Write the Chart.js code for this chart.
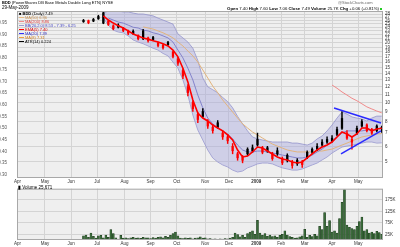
<!DOCTYPE html>
<html>
<head>
<meta charset="utf-8">
<script src="https://cdn.jsdelivr.net/npm/chart.js@4.4.1/dist/chart.umd.min.js"></script>
<style>
  body { margin:0; width:400px; height:247px; background:#fff; position:relative; overflow:hidden;
         font-family:"Liberation Sans", Arial, sans-serif; color:#000; }
  .t { position:absolute; white-space:nowrap; line-height:1; }
  .lg { position:absolute; left:19px; font-size:4px; white-space:nowrap; line-height:1; }
  .sw { display:inline-block; width:5px; height:1px; vertical-align:middle; margin-right:1px; }
  #pbox { position:absolute; left:0; top:0; width:400px; height:184px; }
  #vbox { position:absolute; left:0; top:184px; width:400px; height:63px; }
</style>
</head>
<body>
<div id="pbox"><canvas id="priceChart"></canvas></div>
<div id="vbox"><canvas id="volChart"></canvas></div>

<div class="t" style="left:2px;top:1px;font-size:4px"><b>BDD</b> (PowerShares DB Base Metals Double Long ETN) NYSE</div>
<div class="t" style="left:2px;top:6px;font-size:4.5px">29-May-2009</div>
<div class="t" style="left:338px;top:1px;font-size:4px;color:#666">@StockCharts.com</div>
<div class="t" style="right:21px;top:6.5px;font-size:4.3px"><b>Open</b> 7.40 <b>High</b> 7.60 <b>Low</b> 7.06 <b>Close</b> 7.49 <b>Volume</b> 25.7K <b>Chg</b> +0.06 (+0.81%)</div>
<div class="t" style="left:380px;top:7.5px;width:2px;height:2px;background:#2c2"></div>

<div class="lg" style="top:12px"><b>&#9632; BDD</b> (Daily) 7.49</div>
<div class="lg" style="top:16px;color:#c89050"><span class="sw" style="background:#e8b880"></span>MA(50) 6.96</div>
<div class="lg" style="top:20px;color:#e04040"><span class="sw" style="background:#f08a8a"></span>MA(200) 8.86</div>
<div class="lg" style="top:24px;color:#4040c0"><span class="sw" style="background:#9c9ccf"></span>BB(20,2.0) 8.53 - 7.39 - 6.25</div>
<div class="lg" style="top:28px;color:#e00000"><span class="sw" style="background:#f00"></span>EMA(5) 7.40</div>
<div class="lg" style="top:32px;color:#3030c0"><span class="sw" style="background:#3030ff"></span>MA(20) 7.39</div>
<div class="lg" style="top:36px;color:#d08020"><span class="sw" style="background:#f0a040"></span>MA(8) 7.31</div>
<div class="lg" style="top:40px"><span class="sw" style="background:#000"></span>ATR(14) 0.224</div>
<div class="t" style="left:18px;top:186px;font-size:4.5px"><b>&#9646;</b> Volume 25,671</div>

<script>
// axes / ticks
const monthLabels = ['Apr', 'May', 'Jun', 'Jul', 'Aug', 'Sep', 'Oct', 'Nov', 'Dec', '2009', 'Feb', 'Mar', 'Apr', 'May'];
const monthStarts = [0, 22, 43, 64, 86, 107, 128, 151, 170, 192, 212, 231, 253, 274];
const priceTicks = [5, 6, 7, 8, 9, 10, 11, 12, 13, 14, 15, 16, 17, 18, 19, 20, 21, 22, 23, 24, 25, 26, 27, 28];
const atrTicks = [0.30, 0.35, 0.40, 0.45, 0.50, 0.55, 0.60, 0.65, 0.70, 0.75, 0.80, 0.85, 0.90, 0.95];
const volTicks = [25, 50, 75, 100, 125, 150, 175, 200];

// price samples, one every 4 trading days from day 53 (16 Jun 2008)
const firstDay = 53, dayStep = 4;
const opens = [25.6,25.9,25.8,26.5,25.2,25.8,24.4,24.0,23.8,23.0, 22.3,21.8,21.0,21.2,20.8,20.0,19.5,19.6,18.0,16.6,
  14.5,12.0,10.0,8.7,8.5,8.0,7.5,7.5,7.0,6.7, 6.0,5.5,5.3,5.5,5.7,6.1,5.9,5.7,5.5,5.5,
  5.2,5.1,5.0,4.9,5.0,5.3,5.6,5.8,6.1,6.3, 6.4,6.9,7.4,7.0,6.5,7.0,7.6,7.7,7.3,7.2, 7.40];
const closes = [26.0,25.3,26.3,27.2,28.4,24.8,23.6,24.6,23.1,22.4, 22.9,21.0,23.0,20.5,21.3,19.4,18.9,20.1,17.1,15.8,
  13.6,11.2,9.3,8.2,9.0,7.6,7.2,7.9,6.7,6.4, 5.7,5.25,5.1,5.8,5.9,6.5,5.6,5.9,5.2,5.7,
  4.95,5.4,4.8,5.1,4.85,5.6,5.8,6.0,6.3,6.5, 6.6,7.3,8.3,6.6,6.3,7.4,8.0,7.2,7.0,7.6, 7.49];
const highs = [26.3,26.1,26.6,27.6,28.9,26.0,24.7,25.0,24.0,23.2, 23.3,22.0,23.4,21.4,21.6,20.2,19.7,20.4,18.2,16.9,
  14.8,12.3,10.2,8.9,9.3,8.2,7.7,8.1,7.2,6.9, 6.2,5.6,5.4,5.9,6.1,7.0,6.0,6.0,5.6,5.9,
  5.3,5.5,5.1,5.2,5.1,5.7,5.9,6.2,6.5,6.7, 6.8,7.5,9.0,7.2,6.7,7.6,8.2,7.8,7.4,7.7, 7.60];
const lows = [25.4,25.0,25.6,26.3,25.0,24.5,23.3,23.8,22.8,22.0, 22.1,20.7,20.8,20.2,20.6,19.1,18.6,19.4,16.8,15.4,
  13.2,10.8,9.0,7.9,8.4,7.4,7.0,7.4,6.5,6.2, 5.5,5.1,4.95,5.4,5.6,6.0,5.5,5.6,5.1,5.4,
  4.85,5.0,4.65,4.8,4.7,5.2,5.5,5.7,6.0,6.2, 6.3,6.8,7.3,6.5,5.8,6.9,7.5,7.1,6.9,7.1, 7.06];
const ema = [null,null,null,null,27.4,26.1,25.2,24.4,23.8,23.0, 22.2,21.7,21.2,20.9,20.5,20.2,19.8,19.3,18.4,17.0,
  14.9,12.7,10.3,8.84,8.34,8.06,7.69,7.43,7.18,6.85, 6.46,5.75,5.30,5.36,5.62,5.95,5.88,5.68,5.49,5.30,
  5.18,5.12,5.00,4.94,5.00,5.24,5.49,5.75,5.95,6.09, 6.31,6.69,7.09,6.93,6.69,6.93,7.43,7.43,7.18,7.34, 7.40];
const bbUpper = [null,null,null,null,28.3,29.0,29.4,29.0,28.7,28.7, 28.3,28.0,28.0,27.7,27.4,26.7,26.1,25.5,24.9,22.2,
  21.2,20.2,18.8,16.3,13.3,12.0,11.6,11.2,10.6,10.1, 9.4,8.5,7.8,7.18,6.69,6.54,6.46,6.38,6.31,6.31,
  6.31,6.31,6.23,6.23,6.16,6.09,6.23,6.54,6.77,7.18, 7.69,8.34,8.95,8.74,8.45,8.34,8.25,8.06,8.34,8.53, 8.53];
const bbLower = [null,null,null,null,26.7,24.6,23.2,22.7,22.5,21.7, 20.7,20.2,19.8,19.3,18.8,18.4,17.7,17.2,16.0,14.9,
  13.0,10.9,8.64,7.26,6.46,5.75,5.24,5.0,4.83,4.72, 4.55,4.45,4.50,4.67,4.77,4.89,4.94,4.94,4.89,4.77,
  4.67,4.61,4.55,4.55,4.61,4.72,4.83,4.94,5.12,5.30, 5.55,5.75,5.95,6.02,6.09,6.16,6.23,6.31,6.31,6.23, 6.25];
const ma20 = [null,null,null,null,null,26.7,26.1,25.5,25.2,24.6, 24.0,23.8,23.2,23.0,22.5,22.2,21.7,21.2,20.2,18.4,
  16.8,14.9,13.0,10.9,9.4,8.34,7.8,7.43,7.18,6.93, 6.54,6.09,5.75,5.62,5.62,5.68,5.68,5.62,5.55,5.49,
  5.42,5.36,5.30,5.24,5.24,5.30,5.42,5.62,5.81,6.09, 6.38,6.69,7.01,7.18,7.18,7.18,7.18,7.26,7.26,7.34, 7.39];
const ma50 = [null,null,null,null,null,null,null,null,null,null,null,null,
  24.1,23.8,23.5,23.0,22.5,21.9,21.2,20.2,
  19.3,18.2,17.2,16.0,14.6,13.3,12.1,11.2,10.3,9.6, 8.95,8.34,7.8,7.43,7.09,6.85,6.61,6.38,6.16,6.02,
  5.88,5.75,5.68,5.62,5.62,5.62,5.62,5.68,5.68,5.75, 5.81,5.95,6.09,6.23,6.38,6.54,6.69,6.77,6.85,6.93, 6.96];
const ma200 = [null,null,null,null,null,null,null,null,null,null, null,null,null,null,null,null,null,null,null,null,
  null,null,null,null,null,null,null,null,null,null, null,null,null,null,null,null,null,null,null,null,
  null,null,null,null,null,null,null,null,null,null, 12.25,11.8,11.3,10.9,10.5,10.2,9.85,9.5,9.27,9.05, 8.86];

// drawn trend lines [day, price]
const trendUpper = [[254.6, 9.37], [292.4, 7.87]];
const trendLower = [[260.2, 5.49], [292.4, 7.18]];

// volume in thousands, one every 2 trading days from day 53
const volFirstDay = 53, volStep = 2;
const volumes = [18,22,12,30,16,8,18,20,10,22, 12,45,28,10,4,20,8,10,6,9,
  12,8,10,7,12,9,10,6,11,8, 12,14,10,16,12,20,28,35,18,8,
  6,10,7,9,5,8,10,14,8,10, 5,6,4,5,3,5,4,6,5,8,
  12,30,24,14,20,12,28,35,40,25, 86,30,20,28,16,22,15,18,12,20,
  25,40,22,15,12,8,10,14,18,47, 12,20,15,25,18,60,45,120,60,85,
  35,40,30,93,165,220,65,55,50,45, 60,80,100,40,45,30,35,28,38,32, 25];

const dayOf = i => firstDay + i * dayStep;
const pts = arr => arr.map((v, i) => ({ x: dayOf(i), y: v }));

const plotBg = {
  id: 'plotBg',
  beforeDraw(chart) {
    const a = chart.chartArea, c = chart.ctx;
    c.save();
    c.fillStyle = '#efefef';
    c.fillRect(a.left, a.top, a.right - a.left, a.bottom - a.top);
    c.restore();
  },
  afterDraw(chart) {
    const a = chart.chartArea, c = chart.ctx;
    c.save();
    c.strokeStyle = '#a8a8a8';
    c.lineWidth = 1;
    c.strokeRect(a.left + 0.5, a.top + 0.5, a.right - a.left - 1, a.bottom - a.top - 1);
    c.restore();
  }
};

const font = { family: '"Liberation Sans", Arial, sans-serif', size: 4.5 };
function xScale(h) {
  return {
    type: 'linear', min: -0.5, max: 294, offset: false,
    afterBuildTicks: s => { s.ticks = monthStarts.map(v => ({ value: v })); },
    afterFit: s => { s.height = h; },
    ticks: {
      autoSkip: false, maxRotation: 0, padding: 1, color: '#333',
      font: ctx => ({ ...font, weight: monthLabels[ctx.index] === '2009' ? 'bold' : 'normal' }),
      callback: v => monthLabels[monthStarts.indexOf(v)]
    },
    grid: { color: '#d4d4d4', drawTicks: false, offset: false },
    border: { display: false }
  };
}

const candleColor = closes.map((c, i) => c < opens[i] ? '#ff0000' : '#000000');

new Chart(document.getElementById('priceChart'), {
  type: 'line',
  data: {
    datasets: [
      { label: 'BB upper', data: pts(bbUpper), borderColor: '#9494cc', borderWidth: 0.8,
        backgroundColor: 'rgba(168,168,222,0.45)', fill: '+1', pointRadius: 0, order: 10 },
      { label: 'BB lower', data: pts(bbLower), borderColor: '#9494cc', borderWidth: 0.8,
        fill: false, pointRadius: 0, order: 10 },
      { label: 'MA(50)', data: pts(ma50), borderColor: '#e2b47e', borderWidth: 1, pointRadius: 0, fill: false, order: 9 },
      { label: 'MA(20)', data: pts(ma20), borderColor: '#7b7bc8', borderWidth: 0.9, pointRadius: 0, fill: false, order: 8 },
      { type: 'bar', label: 'range', data: lows.map((l, i) => ({ x: dayOf(i), y: [l, highs[i]] })),
        backgroundColor: candleColor, barThickness: 0.8, grouped: false, order: 6 },
      { type: 'bar', label: 'body', data: opens.map((o, i) => ({ x: dayOf(i), y: [o, closes[i]] })),
        backgroundColor: candleColor, barThickness: 1.6, minBarLength: 1, grouped: false, order: 5 },
      { label: 'EMA', data: pts(ema), borderColor: '#ff0000', borderWidth: 1.6, pointRadius: 0, fill: false, order: 3 },
      { label: 'MA(200)', data: pts(ma200), borderColor: '#f08a8a', borderWidth: 1, pointRadius: 0, fill: false, order: 2 },
      { label: 'trend up', data: trendUpper.map(p => ({ x: p[0], y: p[1] })), borderColor: '#2a2aff',
        borderWidth: 1.5, pointRadius: 0, fill: false, order: 1 },
      { label: 'trend low', data: trendLower.map(p => ({ x: p[0], y: p[1] })), borderColor: '#2a2aff',
        borderWidth: 1.5, pointRadius: 0, fill: false, order: 1 }
    ].map(d => ({ ...d, xAxisID: 'x', yAxisID: 'y' }))
  },
  options: {
    responsive: true, maintainAspectRatio: false, animation: false,
    layout: { padding: { top: 11, left: 0, right: 0, bottom: 0 } },
    plugins: { legend: { display: false }, tooltip: { enabled: false } },
    scales: {
      x: xScale(6),
      y: {
        type: 'logarithmic', position: 'right', min: 4.15, max: 29.0,
        afterBuildTicks: s => { s.ticks = priceTicks.map(v => ({ value: v })); },
        afterFit: s => { s.width = 17; },
        ticks: { font, color: '#333', padding: 2, autoSkip: false, callback: v => String(v) },
        grid: { color: '#d4d4d4', drawTicks: false }, border: { display: false }
      },
      atr: {
        type: 'linear', position: 'left', min: 0.287, max: 1.0,
        afterBuildTicks: s => { s.ticks = atrTicks.map(v => ({ value: v })); },
        afterFit: s => { s.width = 17; },
        ticks: { font, color: '#555', padding: 2, callback: v => v.toFixed(2) },
        grid: { display: false }, border: { display: false }
      }
    }
  },
  plugins: [plotBg]
});

new Chart(document.getElementById('volChart'), {
  type: 'bar',
  data: {
    datasets: [{
      label: 'Volume',
      data: volumes.map((v, i) => ({ x: volFirstDay + i * volStep, y: v * 1000 })),
      backgroundColor: '#3a6b3a', borderColor: '#1e3a1e', borderWidth: 0.5, barThickness: 2
    }]
  },
  options: {
    responsive: true, maintainAspectRatio: false, animation: false,
    layout: { padding: { top: 0, left: 17, right: 0, bottom: 0 } },
    plugins: { legend: { display: false }, tooltip: { enabled: false } },
    scales: {
      x: xScale(7),
      y: {
        position: 'right', min: 0, max: 224000,
        afterBuildTicks: s => { s.ticks = volTicks.map(v => ({ value: v * 1000 })); },
        afterFit: s => { s.width = 17; },
        ticks: { font, color: '#333', padding: 2, callback: v => (v / 1000) + 'K' },
        grid: { color: '#d4d4d4', drawTicks: false }, border: { display: false }
      }
    }
  },
  plugins: [plotBg]
});
</script>
</body>
</html>
